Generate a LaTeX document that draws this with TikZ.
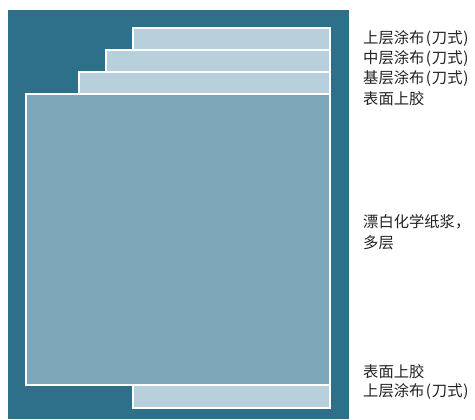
\documentclass[tikz,border=0pt]{standalone}
\usepackage{fontspec}
\newfontfamily\cjk{Noto Sans CJK SC}
\definecolor{bgdark}{RGB}{46,112,137}
\definecolor{layerlight}{RGB}{184,208,219}
\definecolor{layermain}{RGB}{127,167,186}
\definecolor{txt}{RGB}{34,34,34}
\newcommand{\lp}{\kern1.6pt(\kern0.8pt}
\newcommand{\rp}{\kern0.8pt)}
\tikzset{
  coat/.style={fill=layerlight, draw=white, line width=1.8pt},
  core/.style={fill=layermain, draw=white, line width=1.8pt},
  lbl/.style={anchor=west, inner sep=0pt, text=txt, font=\cjk\fontsize{15.3}{18}\selectfont}
}
\begin{document}
\begin{tikzpicture}[x=1pt,y=-1pt]
\useasboundingbox (0,0) rectangle (475,420);
\fill[white] (0,0) rectangle (475,420);
\fill[bgdark] (8,10) rectangle (349,419);
\draw[coat] (133,28) rectangle (330,50);
\draw[coat] (106,50) rectangle (330,72);
\draw[coat] (79,72) rectangle (330,94);
\draw[coat] (133,385) rectangle (330,408);
\draw[core] (26,94) rectangle (330,385);
\node[lbl] (l1) at (363,39) {上层涂布\lp 刀式\rp};
\node[lbl] (l2) at (363,59) {中层涂布\lp 刀式\rp};
\node[lbl] (l3) at (363,79) {基层涂布\lp 刀式\rp};
\node[lbl] (l4) at (363,99) {表面上胶};
\node[lbl] (l5) at (363,222) {漂白化学纸浆，};
\node[lbl] (l6) at (363,243) {多层};
\node[lbl] (l7) at (363,372) {表面上胶};
\node[lbl] (l8) at (363,392) {上层涂布\lp 刀式\rp};
\end{tikzpicture}
\end{document}
